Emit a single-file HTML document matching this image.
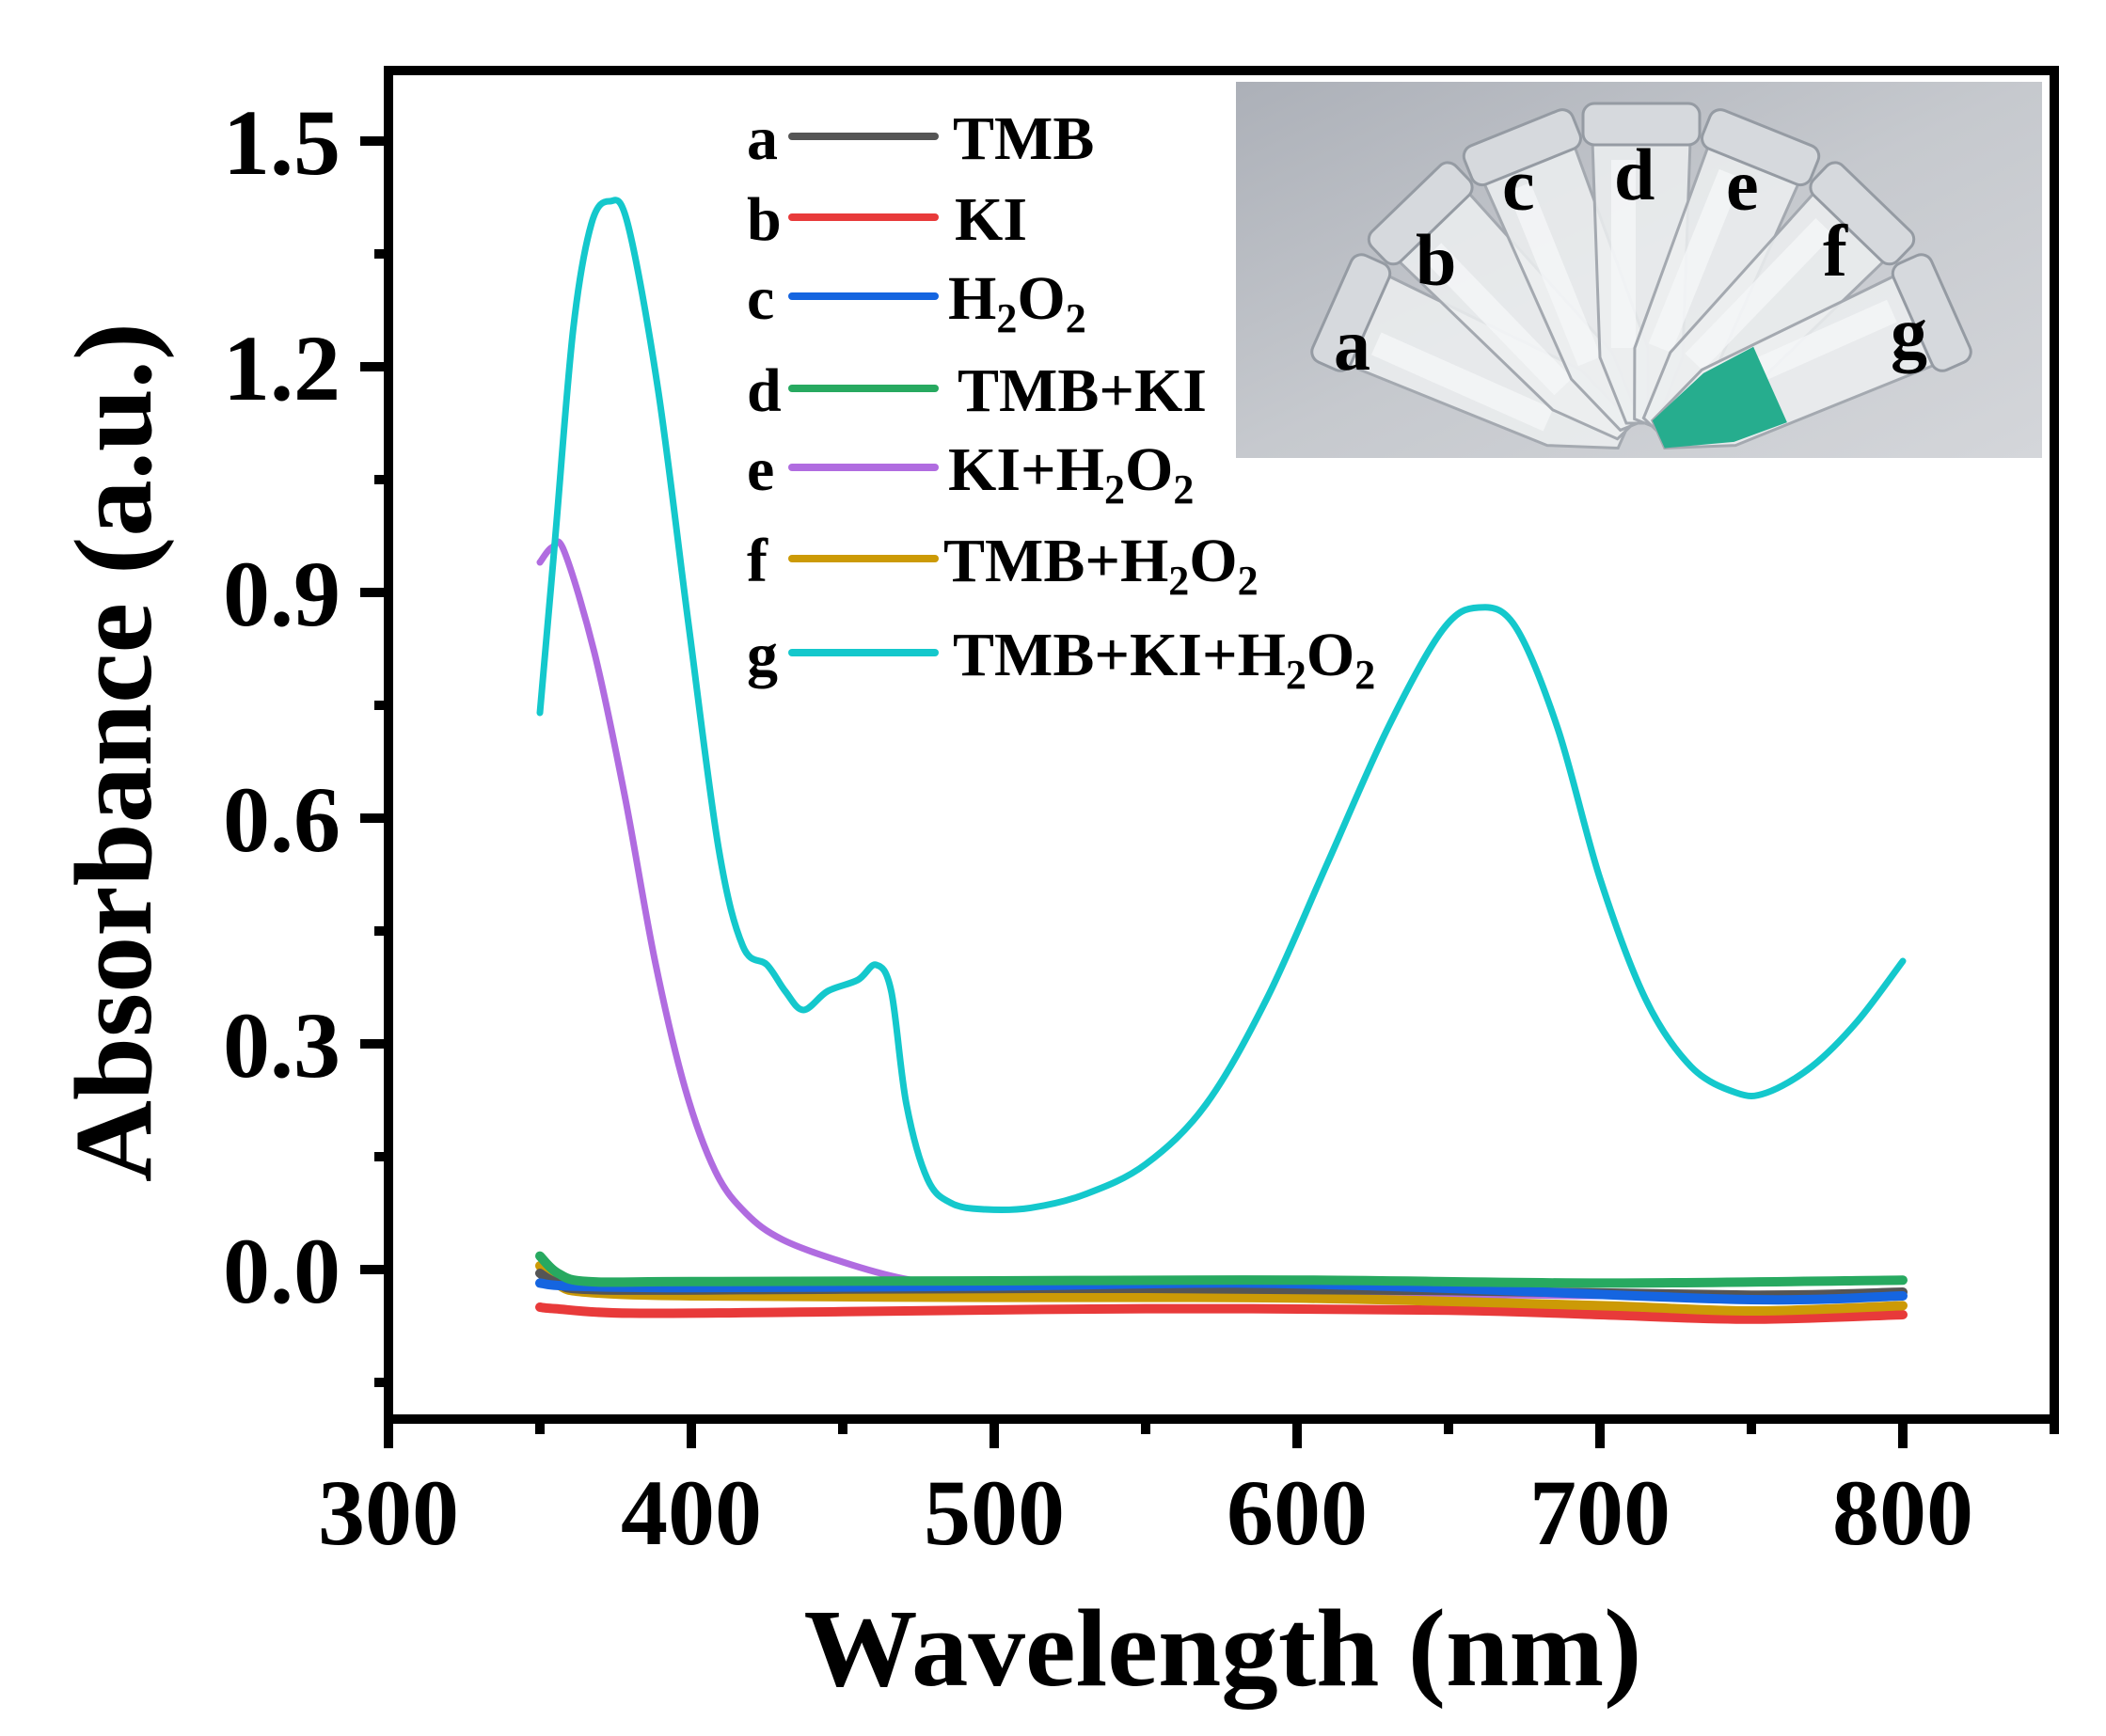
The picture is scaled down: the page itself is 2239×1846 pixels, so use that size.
<!DOCTYPE html>
<html><head><meta charset="utf-8"><style>
html,body{margin:0;padding:0;background:#fff}
svg{display:block}
text{font-family:"Liberation Serif","Times New Roman",serif;font-weight:bold;fill:#000}
</style></head><body>
<svg id="s" width="2239" height="1846" viewBox="0 0 2239 1846" xmlns="http://www.w3.org/2000/svg">
<defs>
<linearGradient id="bg" x1="0" y1="0" x2="1" y2="1">
<stop offset="0" stop-color="#acb0b8"/><stop offset="0.5" stop-color="#c6c9ce"/><stop offset="1" stop-color="#d4d6da"/>
</linearGradient>
<clipPath id="ic"><rect x="1314" y="87" width="857" height="400"/></clipPath>
</defs>
<rect x="1314" y="87" width="857" height="400" fill="url(#bg)"/>
<g clip-path="url(#ic)" id="tubes"></g>
<g font-size="78">
<text x="1418" y="393">a</text><text x="1505" y="303">b</text><text x="1597" y="223">c</text>
<text x="1716" y="212">d</text><text x="1835" y="223">e</text><text x="1938" y="293">f</text><text x="2010" y="380">g</text>
</g>
<g id="curves" fill="none" stroke-linejoin="round" stroke-linecap="round"></g>
<rect x="413" y="75" width="1771" height="1434" fill="none" stroke="#000" stroke-width="10"/>
<g id="ticks" stroke="#000"></g>
<g font-size="100" id="labels"></g>
<text x="1300" y="1792" font-size="118" text-anchor="middle" textLength="891" lengthAdjust="spacingAndGlyphs">Wavelength (nm)</text>
<text transform="translate(160,800) rotate(-90)" font-size="118" text-anchor="middle" textLength="914" lengthAdjust="spacingAndGlyphs">Absorbance (a.u.)</text>
<g font-size="66" id="leg"></g>
</svg>
<script>
const NS="http://www.w3.org/2000/svg";
function el(t,a,p,txt){const e=document.createElementNS(NS,t);for(const k in a)e.setAttribute(k,a[k]);if(txt!=null)e.textContent=txt;p.appendChild(e);return e;}
const X=w=>413+(w-300)*3.22, Y=a=>1350-a*800;
const tk=document.getElementById('ticks'), lb=document.getElementById('labels');
for(let w=300;w<=850;w+=50){const maj=w%100==0;el('line',{x1:X(w),x2:X(w),y1:1509,y2:maj?1540:1525,'stroke-width':10},tk);
 if(maj&&w<=800)el('text',{x:X(w),y:1642,'text-anchor':'middle'},lb,String(w));}
for(let i=-1;i<=10;i++){const a=i*0.15;const maj=i%2==0;el('line',{x1:413,x2:maj?383:398,y1:Y(a),y2:Y(a),'stroke-width':10},tk);
 if(maj&&i>=0)el('text',{x:362,y:Y(a)+35,'text-anchor':'end'},lb,a.toFixed(1));}
function path(pts){const p=pts.map(([w,a])=>[X(w),Y(a)]);let d=`M${p[0][0]},${p[0][1]}`;
 for(let i=0;i<p.length-1;i++){const p0=p[i-1]||p[i],p1=p[i],p2=p[i+1],p3=p[i+2]||p2;
 d+=` C${p1[0]+(p2[0]-p0[0])/6},${p1[1]+(p2[1]-p0[1])/6} ${p2[0]-(p3[0]-p1[0])/6},${p2[1]-(p3[1]-p1[1])/6} ${p2[0]},${p2[1]}`;}return d;}
const cv=document.getElementById('curves');
const series=[
 ['#e83a3a',[[350,-0.05],[355,-0.052],[380,-0.058],[450,-0.056],[550,-0.052],[650,-0.054],[700,-0.06],[750,-0.066],[800,-0.06]]],
 ['#b06ce0',[[350,0.94],[354,0.96],[358,0.955],[368,0.82],[378,0.63],[388,0.41],[398,0.24],[408,0.13],[418,0.075],[430,0.04],[450,0.01],[470,-0.012],[490,-0.022],[520,-0.026],[600,-0.03],[700,-0.035],[800,-0.032]]],
 ['#cc9a06',[[350,0.005],[356,-0.02],[365,-0.03],[400,-0.035],[500,-0.037],[600,-0.038],[700,-0.048],[750,-0.055],[800,-0.048]]],
 ['#555555',[[350,-0.005],[356,-0.018],[370,-0.027],[450,-0.026],[550,-0.025],[650,-0.028],[750,-0.034],[800,-0.03]]],
 ['#1565e0',[[350,-0.018],[360,-0.022],[400,-0.024],[500,-0.022],[580,-0.018],[650,-0.025],[750,-0.04],[800,-0.035]]],
 ['#27a960',[[350,0.018],[356,-0.005],[366,-0.016],[400,-0.016],[500,-0.015],[600,-0.014],[700,-0.018],[800,-0.014]]],
 ['#14c8cc',[[350,0.74],[355,0.97],[361,1.25],[367,1.39],[373,1.42],[379,1.39],[389,1.17],[399,0.86],[409,0.56],[417,0.43],[425,0.405],[431,0.37],[437,0.345],[445,0.37],[455,0.385],[461,0.405],[466,0.37],[471,0.22],[478,0.12],[486,0.088],[497,0.08],[512,0.082],[530,0.1],[550,0.14],[570,0.22],[590,0.36],[610,0.54],[630,0.72],[648,0.85],[660,0.88],[672,0.855],[686,0.72],[700,0.52],[715,0.36],[730,0.27],[745,0.235],[755,0.235],[770,0.27],[785,0.33],[800,0.41]]]
];
series.forEach(([c,p],i)=>el('path',{d:path(p),stroke:c,'stroke-width':c=='#14c8cc'||c=='#b06ce0'?7:10},cv));
const lg=document.getElementById('leg');
const sub='<tspan font-size="44" dy="14">2</tspan><tspan dy="-14">O</tspan><tspan font-size="44" dy="14">2</tspan>';
const L=[['a','#555555','TMB',145,1013],['b','#e83a3a','KI',231,1015],['c','#1565e0','H'+sub,315,1008],
['d','#27a960','TMB+KI',413,1018],['e','#b06ce0','KI+H'+sub,497,1008],
['f','#cc9a06','TMB+H'+sub,594,1003],['g','#14c8cc','TMB+KI+H'+sub,694,1013]];
L.forEach(([l,c,t,y,tx])=>{el('text',{x:794,y:y+24},lg,l);el('line',{x1:842,x2:994,y1:y,y2:y,stroke:c,'stroke-width':8,'stroke-linecap':'round'},lg);
 const e=el('text',{x:tx,y:y+24},lg);e.innerHTML=t;});
const tb=document.getElementById('tubes');const cx=1745,cy=470;
[-66,-44,-22,0,22,44,66].forEach((ang,i)=>{const g=el('g',{transform:`rotate(${ang} ${cx} ${cy})`},tb);
 el('path',{d:`M${cx-52},${cy-320} L${cx+52},${cy-320} L${cx+44},${cy-90} L${cx+16},${cy-20} L${cx-16},${cy-20} L${cx-44},${cy-90} Z`,fill:'#eceef0','fill-opacity':0.85,stroke:'#a4a9b0','stroke-width':3},g);
 el('rect',{x:cx-62,y:cy-360,width:124,height:44,rx:12,fill:'#d6d9dd',stroke:'#959ba3','stroke-width':3},g);
 el('rect',{x:cx-32,y:cy-300,width:26,height:200,fill:'#f7f8f9','fill-opacity':0.7},g);
 if(i==6)el('path',{d:`M${cx-44},${cy-150} L${cx+44},${cy-150} L${cx+40},${cy-90} L${cx+16},${cy-20} L${cx-16},${cy-20} L${cx-40},${cy-90} Z`,fill:'#26ad8e'},g);
});
</script>
</body></html>
